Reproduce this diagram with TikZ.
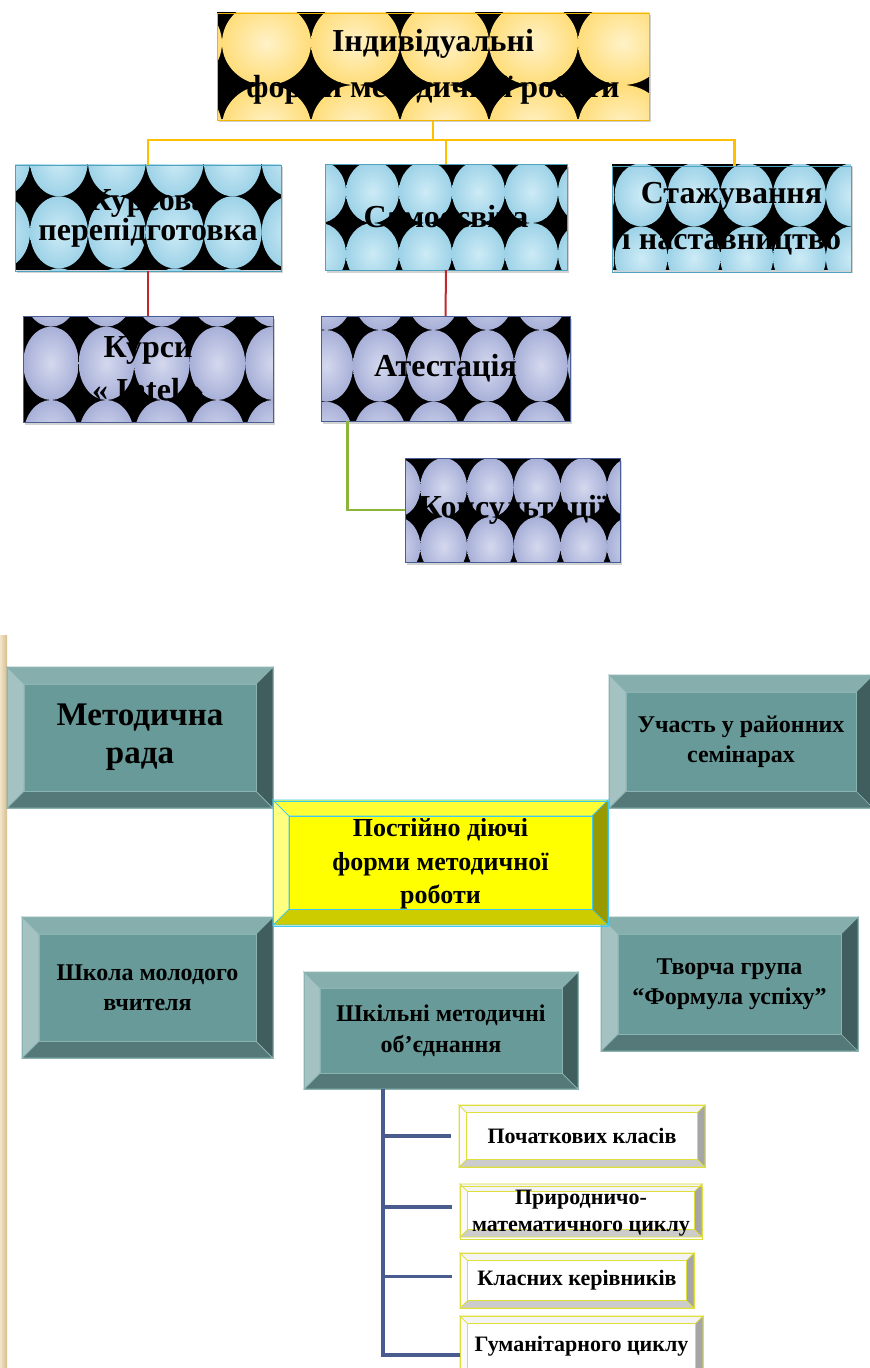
\documentclass[tikz,border=0pt]{standalone}
\usepackage{fontspec}
\setmainfont{Liberation Serif}
\usetikzlibrary{calc}
\definecolor{yin}{HTML}{FFF2C8}
\definecolor{yout}{HTML}{FFDD7A}
\definecolor{bin}{HTML}{CDEBF6}
\definecolor{bout}{HTML}{9DD2E7}
\definecolor{lin}{HTML}{D4D9EE}
\definecolor{lout}{HTML}{A8B0D8}
\definecolor{ybord}{HTML}{F2B600}
\definecolor{bbord}{HTML}{4FA3BE}
\definecolor{lbord}{HTML}{4A5E96}
\definecolor{orln}{HTML}{FFC000}
\definecolor{redln}{HTML}{C0282D}
\definecolor{grnln}{HTML}{8CB43C}
\definecolor{bluln}{HTML}{4A5B8E}
% teal bevel
\definecolor{tealface}{HTML}{679A98}
\definecolor{tealtop}{HTML}{86AEAD}
\definecolor{teallft}{HTML}{A4C2C1}
\definecolor{tealrgt}{HTML}{3F5E5D}
\definecolor{tealbot}{HTML}{547978}
\definecolor{tealln}{HTML}{8AB3B2}
% yellow bevel
\definecolor{yelface}{HTML}{FFFF00}
\definecolor{yeltop}{HTML}{FFFF33}
\definecolor{yellft}{HTML}{FFFF80}
\definecolor{yelrgt}{HTML}{999900}
\definecolor{yelbot}{HTML}{CCCC00}
\definecolor{yelln}{HTML}{40C8F0}
% white bevel
\definecolor{whface}{HTML}{FFFFFF}
\definecolor{whtop}{HTML}{F4F4F4}
\definecolor{whlft}{HTML}{FAFAFA}
\definecolor{whrgt}{HTML}{A6A6A6}
\definecolor{whbot}{HTML}{CCCCCC}
\definecolor{whln}{HTML}{DEDE3C}
\definecolor{tanA}{HTML}{F1E4C8}
\definecolor{tanB}{HTML}{D6BE8E}

% x1 y1 x2 y2 tilew tileh cornerx cornery colorprefix
\newcommand\tilebg[9]{%
  \fill[black!35,opacity=0.5] ({#1+2},{#2+3}) rectangle ({#3+2},{#4+3});
  \begin{scope}
    \clip (#1,#2) rectangle (#3,#4);
    \fill[black] (#1,#2) rectangle (#3,#4);
    \foreach \i in {-2,...,5}{\foreach \j in {-2,...,1}{
      \shade[inner color=#9in,outer color=#9out]
        ({#7+(\i+0.5)*#5},{#8+(\j+0.5)*#6}) ellipse [x radius={#5/2}, y radius={#6/2}];
    }}
  \end{scope}}

% x1 y1 x2 y2 bevel colorprefix
\newcommand\bevelbg[6]{%
  \filldraw[fill=#6top,draw=#6ln,line width=0.7pt] (#1,#2) -- (#3,#2) -- ({#3-#5},{#2+#5}) -- ({#1+#5},{#2+#5}) -- cycle;
  \filldraw[fill=#6bot,draw=#6ln,line width=0.7pt] (#1,#4) -- (#3,#4) -- ({#3-#5},{#4-#5}) -- ({#1+#5},{#4-#5}) -- cycle;
  \filldraw[fill=#6lft,draw=#6ln,line width=0.7pt] (#1,#2) -- ({#1+#5},{#2+#5}) -- ({#1+#5},{#4-#5}) -- (#1,#4) -- cycle;
  \filldraw[fill=#6rgt,draw=#6ln,line width=0.7pt] (#3,#2) -- ({#3-#5},{#2+#5}) -- ({#3-#5},{#4-#5}) -- (#3,#4) -- cycle;
  \filldraw[fill=#6face,draw=#6ln,line width=0.7pt] ({#1+#5},{#2+#5}) rectangle ({#3-#5},{#4-#5});}

\begin{document}
\begin{tikzpicture}[x=1pt,y=-1pt,
  bx/.style={inner sep=0pt,outer sep=0pt,align=center,text=black},
  fs/.style 2 args={font=\bfseries\fontsize{#1}{#2}\selectfont},
  wh/.style 2 args={minimum width=#1pt,minimum height=#2pt},
  orangeline/.style={draw=orln,line width=2.2pt},
  redline/.style={draw=redln,line width=2pt},
  greenline/.style={draw=grnln,line width=2.2pt},
  blueline/.style={draw=bluln,line width=3.6pt}]
\useasboundingbox (0,0) rectangle (870,1368);
\fill[white] (0,0) rectangle (870,1368);

% ---------- upper chart ----------
\tilebg{217}{12}{649}{119}{89}{84}{222}{85}{y}
\node[bx,draw=ybord,line width=1pt,wh={432}{107},fs={32}{46}] (top) at (433,67) {Індивідуальні\\форми методичної роботи};

\tilebg{15}{164}{281}{270}{57.9}{72}{30}{196.3}{b}
\node[bx,draw=bbord,line width=1pt,wh={266}{106},fs={32}{29}] (kurs) at (148,218) {Курсова\\перепідготовка};

\tilebg{325}{164}{567}{270}{53}{62}{346}{223}{b}
\node[bx,draw=bbord,line width=1pt,wh={242}{106},fs={32}{40}] (samo) at (446,217) {Самоосвіта};

\tilebg{612}{164}{851}{270}{52.8}{63}{614.7}{226.3}{b}
\node[bx,draw=bbord,line width=1pt,wh={239}{106},fs={32}{46}] (stazh) at (731.5,219) {Стажування\\і наставництво};

\tilebg{23}{316}{273}{422}{55.5}{73.3}{78.7}{326.7}{l}
\node[bx,draw=lbord,line width=1pt,wh={250}{106},fs={32}{43}] (kursy) at (148,369) {Курси\\« Intel »};

\tilebg{321}{316}{570}{421}{53.7}{71.7}{353}{330}{l}
\node[bx,draw=lbord,line width=1pt,wh={249}{105},fs={32}{40}] (atest) at (445.5,368.5) {Атестація};

\tilebg{405}{458}{620}{562}{46.7}{59}{420.3}{517}{l}
\node[bx,draw=lbord,line width=1pt,wh={215}{104},fs={32}{40}] (kons) at (512.5,510) {Консультації};

\coordinate (hub) at (433,140);
\draw[orangeline] (top.south) -- (hub);
\draw[orangeline] (hub) -| (kurs.north);
\draw[orangeline] (hub) -| (samo.north);
\draw[orangeline] (hub) -| ([xshift=3pt]stazh.north);
\draw[redline] (kurs.south) -- (kursy.north);
\draw[redline] (samo.south) -- (atest.north);
\draw[greenline] ([xshift=26.5pt]atest.south west) |- (kons.west);

% ---------- lower chart ----------
\shade[left color=tanA,right color=tanB] (0,635) rectangle (7,1368);

\bevelbg{7}{667}{273}{808}{17}{teal}
\node[bx,draw=tealln,line width=0.7pt,wh={266}{141},fs={33}{38}] (metrada) at (140,737.5) {Методична\\рада};

\bevelbg{609}{675}{873}{808}{17}{teal}
\node[bx,draw=tealln,line width=0.7pt,wh={264}{133},fs={24}{30}] (uchast) at (741,741.5) {Участь у районних\\семінарах};

\bevelbg{22}{917}{273}{1058}{17}{teal}
\node[bx,draw=tealln,line width=0.7pt,wh={251}{141},fs={24}{30}] (shkola) at (147.5,987.5) {Школа молодого\\вчителя};

\bevelbg{601}{917}{858}{1051}{17}{teal}
\node[bx,draw=tealln,line width=0.7pt,wh={257}{134},fs={24}{30}] (tvorcha) at (729.5,984) {Творча група\\“Формула успіху”};

\bevelbg{273}{800}{608}{925}{16}{yel}
\node[bx,draw=yelln,line width=0.8pt,wh={335}{125},fs={26}{33.3}] (post) at (440.5,864) {Постійно діючі\\форми методичної\\роботи};

\bevelbg{304}{972}{578}{1089}{16}{teal}
\node[bx,draw=tealln,line width=0.7pt,wh={274}{117},fs={24}{31}] (shkmo) at (441,1030.5) {Шкільні методичні\\об\symbol{39}єднання};

\bevelbg{459}{1105}{705}{1167}{7.5}{wh}
\node[bx,draw=whln,line width=1pt,wh={246}{62},fs={22}{26.7}] (l1) at (582,1136) {Початкових класів};

\bevelbg{460}{1184}{702}{1237}{7.5}{wh}
\node[bx,draw=whln,line width=1pt,wh={242}{53},fs={22}{26.7}] (l2) at (581,1213) {Природничо-\\математичного циклу};

\bevelbg{460}{1253}{694}{1308}{7.5}{wh}
\node[bx,draw=whln,line width=1pt,wh={234}{55},fs={22}{26.7}] (l3) at (577,1280.5) {Класних керівників};

\bevelbg{460}{1316}{703}{1376}{7.5}{wh}
\node[bx,draw=whln,line width=1pt,wh={243}{60},fs={22}{26.7}] (l4) at (581.5,1346) {Гуманітарного циклу};

\coordinate (trunk) at ([xshift=79pt]shkmo.south west);
\draw[blueline] (trunk) |- ([yshift=-9pt]l4.west);
\draw[blueline] (trunk |- l1.west) -- ([xshift=-8pt]l1.west);
\draw[blueline] ([yshift=6pt]trunk |- l2.west) -- ([xshift=-8pt,yshift=6pt]l2.west);
\draw[blueline] ([yshift=4pt]trunk |- l3.west) -- ([xshift=-8pt,yshift=4pt]l3.west);
\end{tikzpicture}
\end{document}
